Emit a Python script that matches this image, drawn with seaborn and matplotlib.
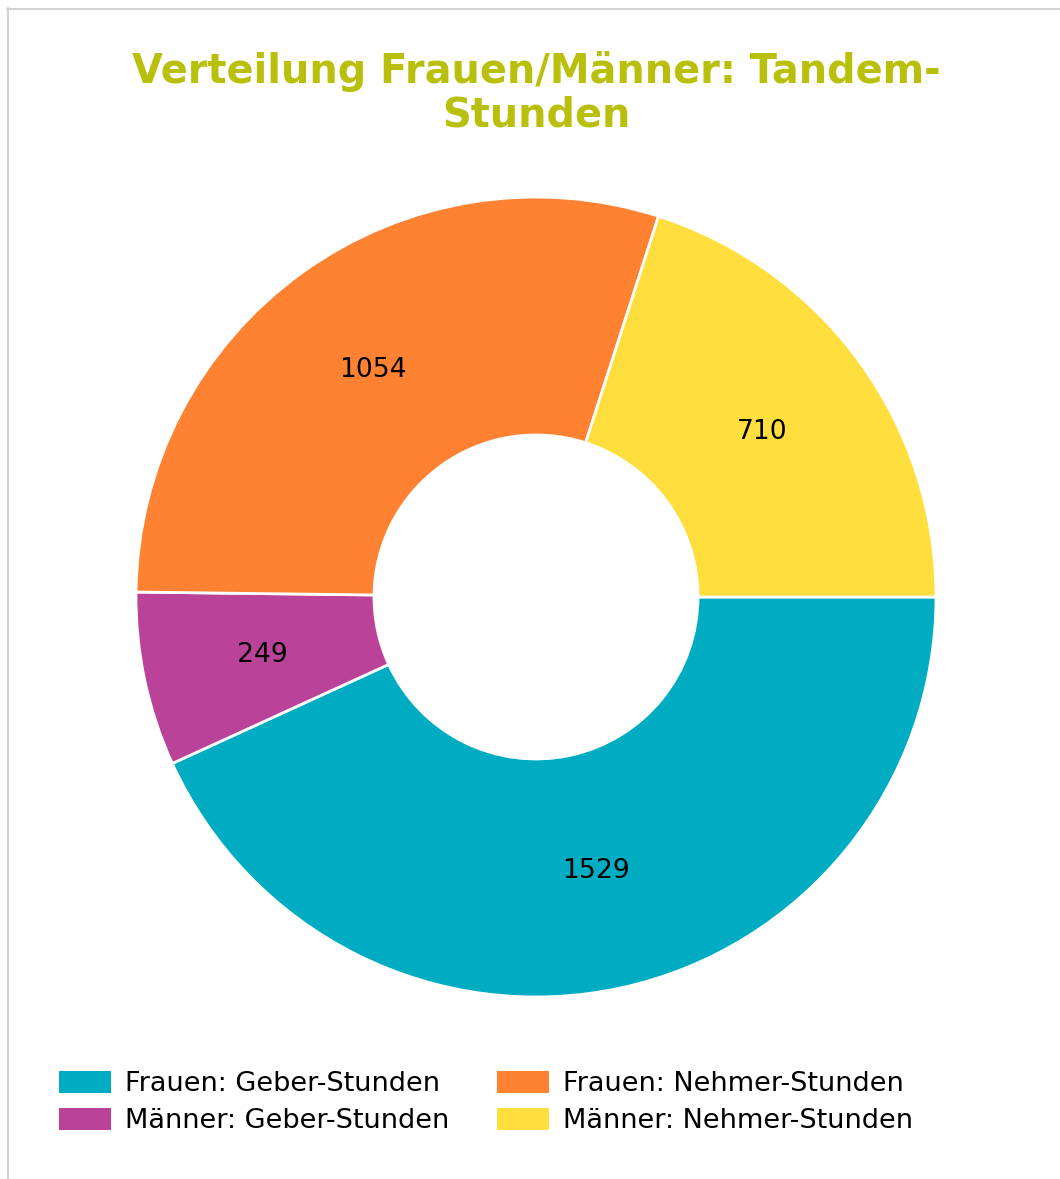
import matplotlib
matplotlib.use("Agg")
import matplotlib.pyplot as plt
import seaborn as sns
from matplotlib.patches import Patch
from matplotlib.lines import Line2D

# Data
categories = ["Frauen: Geber-Stunden", "Männer: Geber-Stunden",
              "Frauen: Nehmer-Stunden", "Männer: Nehmer-Stunden"]
values = [1529, 249, 1054, 710]
colors = ["#00ACC1", "#BA4399", "#FF8232", "#FFDE3E"]
title_lines = ["Verteilung Frauen/Männer: Tandem-", "Stunden"]

sns.set_theme(style="white")
plt.rcParams["font.family"] = ["DejaVu Sans"]
plt.rcParams["text.color"] = "black"

W, H = 1060, 1179
fig = plt.figure(figsize=(W / 100, H / 100), dpi=100)

# pie axes: center (536, 597), radius 400 px
cx, cy, R = 536, 597, 400
ax = fig.add_axes([(cx - R) / W, (H - cy - R) / H, 2 * R / W, 2 * R / H])
total = sum(values)
wedges, texts, autotexts = ax.pie(
    values, colors=colors, startangle=0, counterclock=False, radius=1.0,
    autopct=lambda p: f"{round(p * total / 100)}", pctdistance=0.70,
    wedgeprops=dict(width=0.595, edgecolor="white", linewidth=2.0),
    textprops=dict(fontsize=19.2, color="black"))
ax.set_xlim(-1, 1)
ax.set_ylim(-1, 1)
ax.set_aspect("equal")
ax.axis("off")

# title
title_color = "#B8C00C"
fig.text(cx / W, 1 - 82.7 / H, title_lines[0], ha="center", va="baseline",
         fontsize=28.7, fontweight="bold", color=title_color)
fig.text(cx / W, 1 - 126.7 / H, title_lines[1], ha="center", va="baseline",
         fontsize=28.7, fontweight="bold", color=title_color)

# legend
handles = [Patch(facecolor=colors[i], edgecolor="none", label=categories[i]) for i in range(4)]
leg = fig.legend(handles=handles, loc="upper left", bbox_to_anchor=(59 / W, 1 - 1071 / H),
                 ncol=2, frameon=False, fontsize=19.5, handlelength=1.92, handleheight=0.85,
                 handletextpad=0.52, columnspacing=1.75, labelspacing=0.40, borderpad=0,
                 borderaxespad=0)
for t in leg.get_texts():
    t.set_color("black")

# frame lines (top and left border)
fig.add_artist(Line2D([7.5 / W, 7.5 / W], [0, 1 - 8 / H], transform=fig.transFigure,
                      color="#D3D3D3", linewidth=1.5))
fig.add_artist(Line2D([7 / W, 1], [1 - 8.5 / H, 1 - 8.5 / H], transform=fig.transFigure,
                      color="#D3D3D3", linewidth=1.5))

fig.savefig("out.png", dpi=100)
